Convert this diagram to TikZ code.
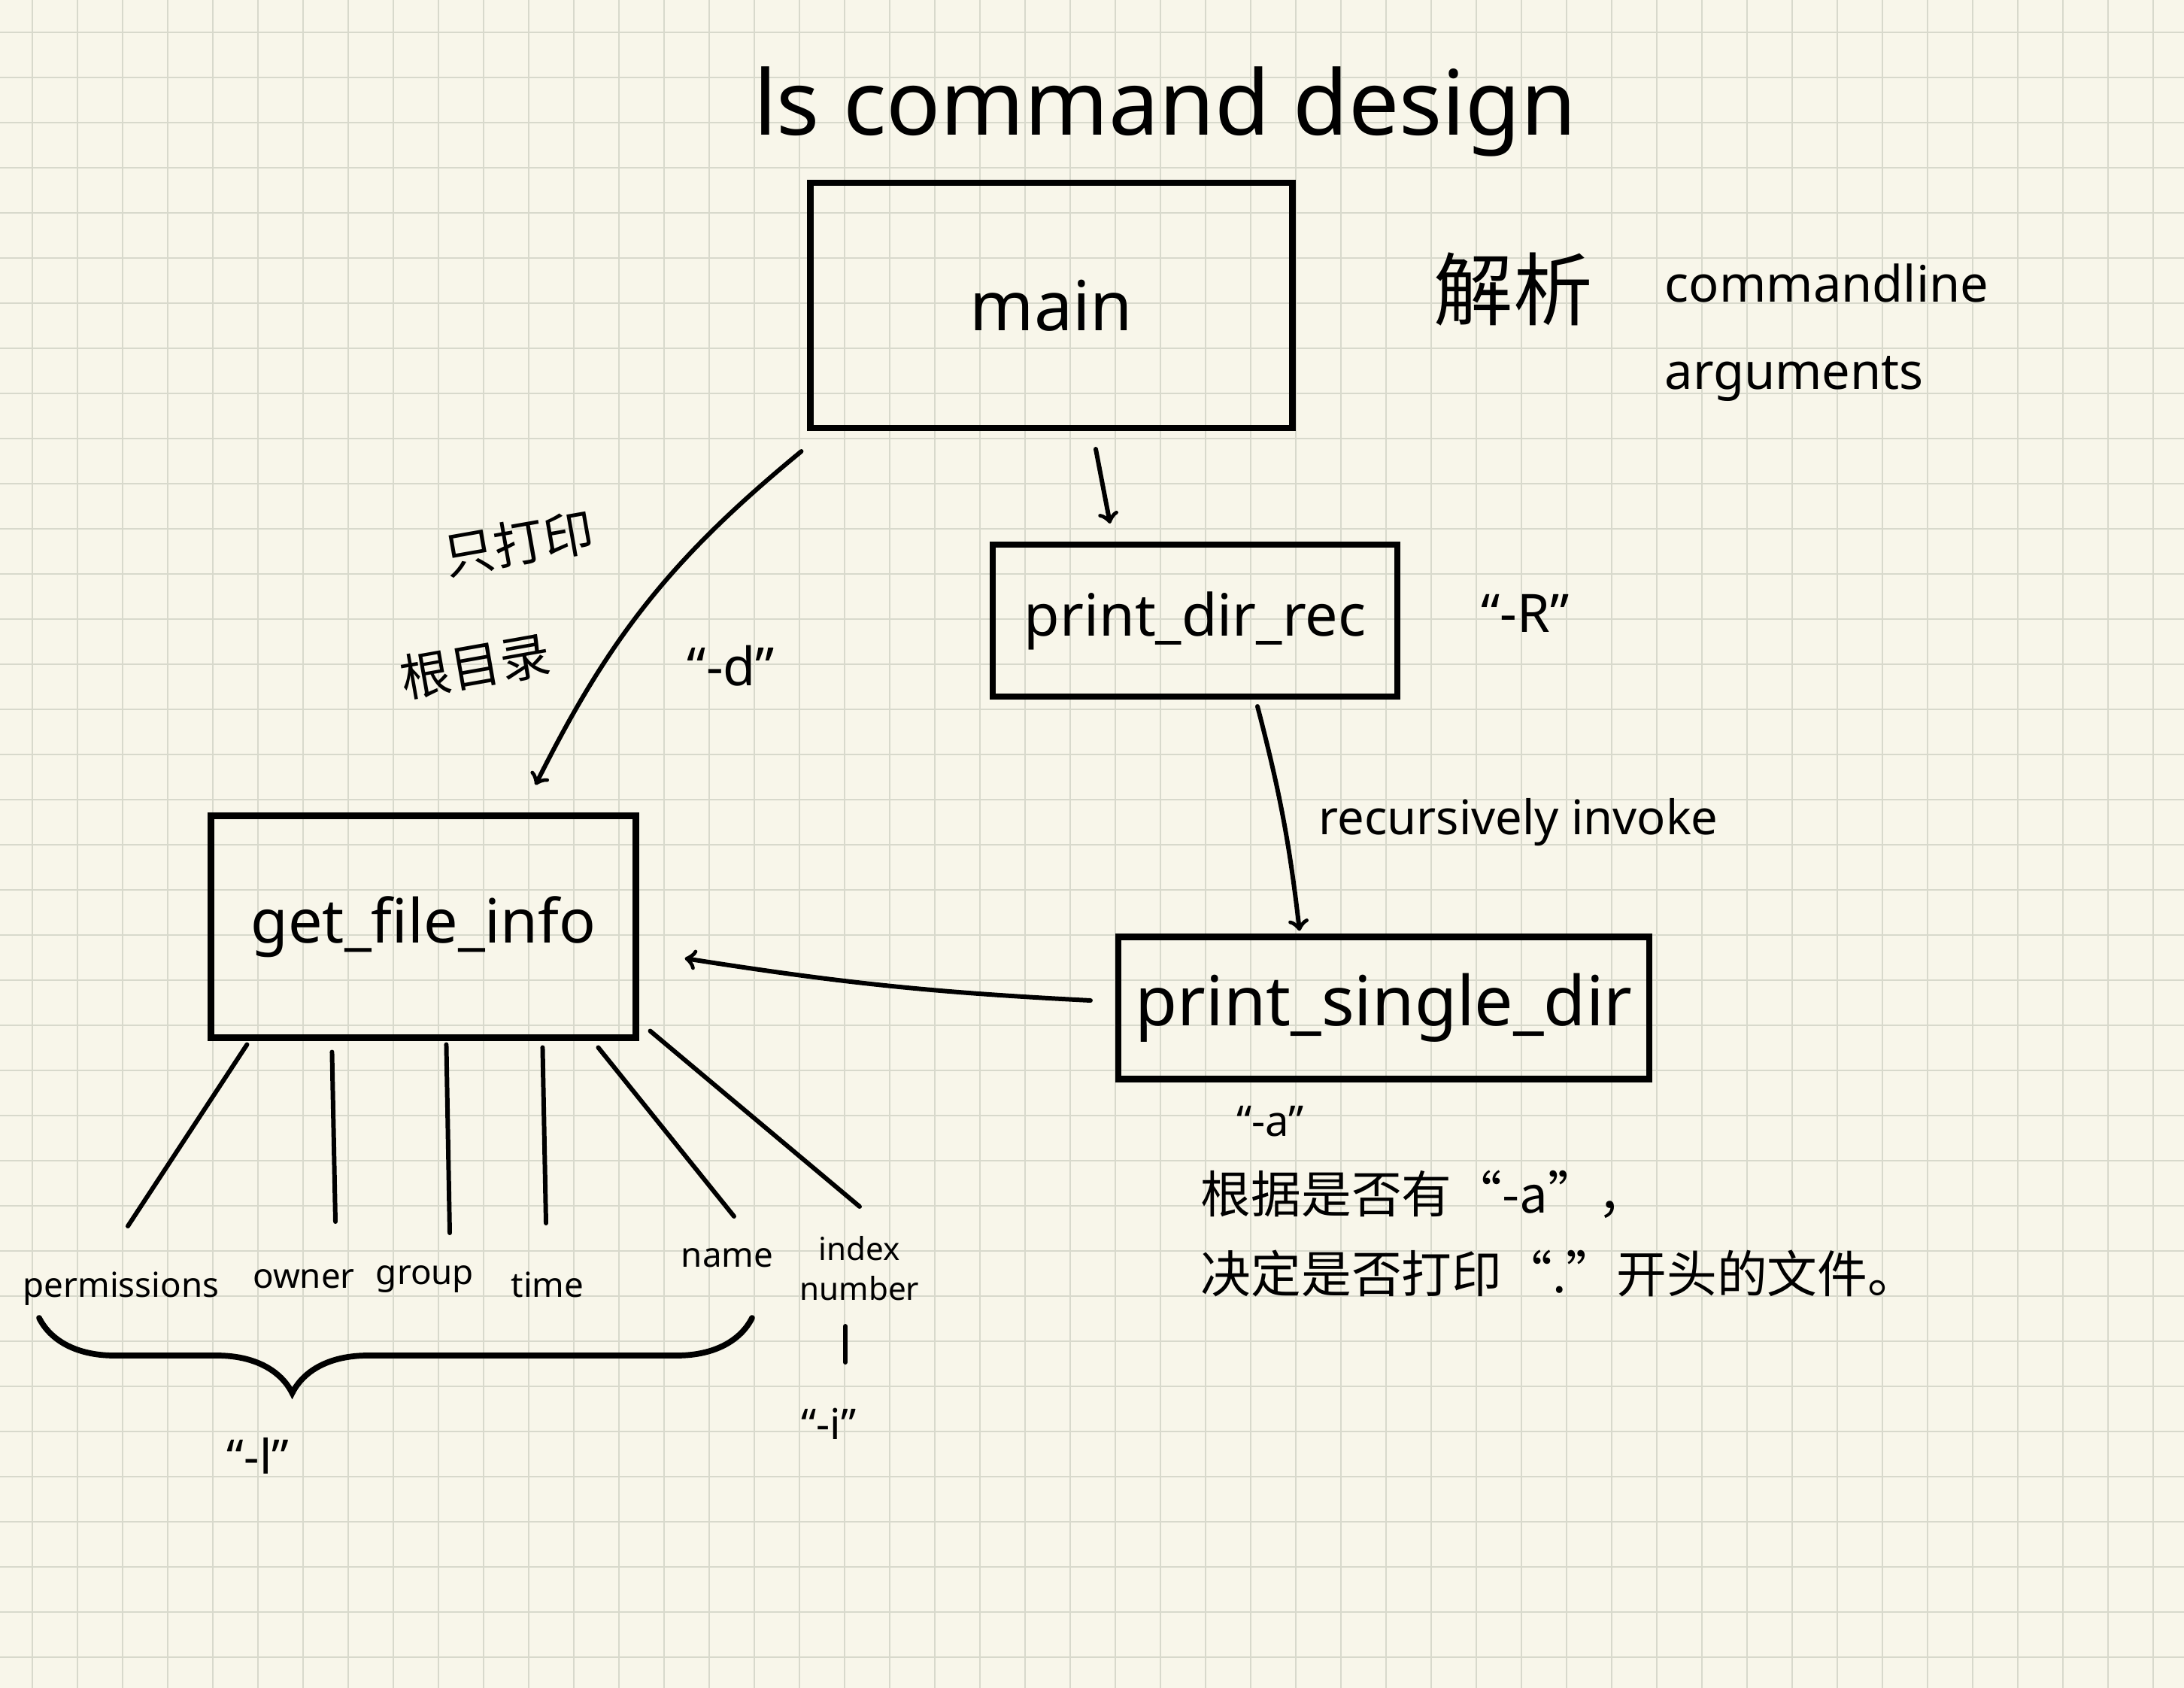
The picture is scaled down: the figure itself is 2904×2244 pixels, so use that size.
\documentclass[tikz,border=0pt]{standalone}
\usepackage{fontspec}
\setmainfont{Noto Sans}
\newfontfamily\cjk{Noto Sans CJK SC}
\usepackage{tikz}
\usetikzlibrary{positioning}
\usetikzlibrary{calc}
\usetikzlibrary{decorations.pathreplacing}
\definecolor{paper}{HTML}{F8F6EA}
\definecolor{gridline}{HTML}{D8D9CC}

\begin{document}
\begin{tikzpicture}
    [
    x=0.1mm,y=-0.1mm,
    box/.style={draw,line width=2.3pt,inner sep=0pt},
    field/.style={inner sep=0pt,font=\fontsize{13}{16}\selectfont},
    flag/.style={inner sep=0pt,font=\fontsize{20}{24}\selectfont},
    ink/.style={line width=1.7pt,line cap=round},
    ]
    \fill [paper] (0,0) rectangle (2904,2244);
    \useasboundingbox (0,0) rectangle (2904,2244);
    \foreach \g in {43,103,...,2904} \draw [gridline,line width=0.8pt] (\g,0) -- (\g,2244);
    \foreach \g in {43,103,...,2244} \draw [gridline,line width=0.8pt] (0,\g) -- (2904,\g);

    \node (title) at (1549,148) [font=\fontsize{34}{40}\selectfont] {ls command design};

    \node (main) at (1398,406) [box,minimum width=64.1mm,minimum height=32.6mm,font=\fontsize{26}{30}\selectfont] {main};
    \node (rec) at (1589,825) [box,minimum width=53.8mm,minimum height=20.2mm,font=\fontsize{22}{26}\selectfont] {print\_dir\_rec};
    \node (info) at (563,1232) [box,minimum width=56.5mm,minimum height=29.5mm,font=\fontsize{23}{26}\selectfont] {get\_file\_info};
    \node (single) at (1840,1340) [box,minimum width=70.6mm,minimum height=18.9mm,font=\fontsize{26}{30}\selectfont] {print\_single\_dir};

    \node (parse) at (2012,385) [font=\cjk\fontsize{30}{34}\selectfont] {解析};
    \node (args) at (2213,442) [anchor=west,align=left,inner sep=0pt,font=\fontsize{19}{33}\selectfont] {commandline\\arguments};
    \node (optR) at (2028,815) [flag] {“-R”};
    \node (only1) at (690,722) [rotate=10,inner sep=0pt,font=\cjk\fontsize{19}{22}\selectfont] {只打印};
    \node (only2) at (632,885) [rotate=10,inner sep=0pt,font=\cjk\fontsize{19}{22}\selectfont] {根目录};
    \node (optd) at (972,885) [flag] {“-d”};
    \node (recur) at (2019,1093) [font=\fontsize{18}{22}\selectfont] {recursively invoke};
    \node (opta) at (1689,1491) [flag,font=\fontsize{16}{20}\selectfont] {“-a”};
    \node (note) at (1596,1640) [anchor=west,align=left,inner sep=0pt,font=\cjk\fontsize{19}{30}\selectfont] {根据是否有“-a”，\\决定是否打印“.”开头的文件。};

    \draw [ink,->] ($(main.south)+(59,24)$) to ($(rec.north)+(-113,-24)$);
    \draw [ink,->] ($(main.south west)+(-8,27)$) to [bend right=12] ($(info.north)+(149,-37)$);
    \draw [ink,->] ($(rec.south)+(83,9)$) to [bend left=4] ($(single.north)+(-112,-4)$);
    \draw [ink,->] ($(single.west)+(-33,-10)$) to [bend left=3] ($(info.east)+(61,42)$);

    % fields of get_file_info
    \node (perm) at (161,1713) [field] {permissions};
    \node (owner) at (404,1700) [field] {owner};
    \node (group) at (565,1700) [field] {group};
    \node (time) at (728,1708) [field] {time};
    \node (name) at (967,1672) [field] {name};
    \node (index) at (1143,1686) [field,align=center,font=\fontsize{12}{15}\selectfont] {index\\number};
    \draw [ink] ($(info.south west)+(52,5)$) -- ($(perm.center)+(9,-83)$);
    \draw [ink] ($(info.south west)+(165,15)$) -- ($(owner.center)+(42,-76)$);
    \draw [ink] ($(info.south west)+(317,5)$) -- ($(group.center)+(33,-61)$);
    \draw [ink] ($(info.south west)+(445,9)$) -- ($(time.center)+(-2,-82)$);
    \draw [ink] ($(info.south west)+(519,9)$) -- ($(name.center)+(9,-55)$);
    \draw [ink] ($(info.south east)+(15,-13)$) -- ($(index.center)+(0,-82)$);

    \draw [ink,line width=2.2pt,decorate,decoration={brace,mirror,amplitude=10mm,aspect=0.355}]
        ($(perm.center)+(-109,39)$) -- ($(name.center)+(33,80)$);
    \node (optl) at (343,1935) [flag,font=\fontsize{18}{22}\selectfont] {“-l”};
    \node (opti) at (1102,1893) [flag,font=\fontsize{16}{20}\selectfont] {“-i”};
    \draw [ink] ($(index.center)+(-19,77)$) -- ($(opti.center)+(22,-82)$);
\end{tikzpicture}
\end{document}
